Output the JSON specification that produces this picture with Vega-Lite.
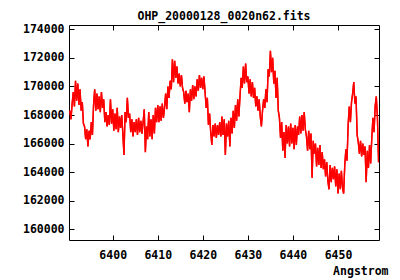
{
"$schema": "https://vega.github.io/schema/vega-lite/v6.json",
"width": 310, "height": 215,
"autosize": {"type": "none"},
"padding": {"left": 69, "top": 25, "right": 21, "bottom": 40},
"background": "white",
"title": {"text": "OHP_20000128_0020n62.fits", "font": "DejaVu Sans Mono", "fontWeight": "bold", "fontSize": 11.5, "color": "black", "anchor": "middle", "baseline": "alphabetic", "offset": -8},
"config": {
  "view": {"stroke": "black", "strokeWidth": 1},
  "axis": {"domain": false, "grid": false, "tickColor": "black", "tickSize": -5, "labelFont": "DejaVu Sans Mono", "labelFontWeight": "bold", "labelFontSize": 11.5, "labelColor": "black", "titleFont": "DejaVu Sans Mono", "titleFontWeight": "bold", "titleFontSize": 11.5, "titleColor": "black"}
},
"data": {"values": [
{"w":6390.50,"f":168300},{"w":6390.75,"f":167700},{"w":6391.00,"f":168800},{"w":6391.25,"f":169600},{"w":6391.50,"f":168600},{"w":6391.75,"f":170400},{"w":6392.00,"f":169000},{"w":6392.25,"f":170200},{"w":6392.50,"f":168700},{"w":6392.75,"f":169800},
{"w":6393.00,"f":168300},{"w":6393.25,"f":168900},{"w":6393.50,"f":167400},{"w":6393.75,"f":167200},{"w":6394.00,"f":166300},{"w":6394.25,"f":167000},{"w":6394.50,"f":165800},{"w":6394.75,"f":166900},{"w":6395.00,"f":166300},{"w":6395.25,"f":167500},
{"w":6395.50,"f":166600},{"w":6395.75,"f":168700},{"w":6396.00,"f":169800},{"w":6396.25,"f":168300},{"w":6396.50,"f":169500},{"w":6396.75,"f":168400},{"w":6397.00,"f":169300},{"w":6397.25,"f":168200},{"w":6397.50,"f":169600},{"w":6397.75,"f":168500},
{"w":6398.00,"f":169100},{"w":6398.25,"f":167500},{"w":6398.50,"f":168200},{"w":6398.75,"f":167200},{"w":6399.00,"f":168000},{"w":6399.25,"f":167300},{"w":6399.50,"f":169100},{"w":6399.75,"f":167400},{"w":6400.00,"f":168400},{"w":6400.25,"f":166900},
{"w":6400.50,"f":168100},{"w":6400.75,"f":167000},{"w":6401.00,"f":168500},{"w":6401.25,"f":166800},{"w":6401.50,"f":167900},{"w":6401.75,"f":167100},{"w":6402.00,"f":168000},{"w":6402.25,"f":166700},{"w":6402.50,"f":165200},{"w":6402.75,"f":168200},
{"w":6403.00,"f":167500},{"w":6403.25,"f":169200},{"w":6403.50,"f":167800},{"w":6403.75,"f":168100},{"w":6404.00,"f":166800},{"w":6404.25,"f":167700},{"w":6404.50,"f":166500},{"w":6404.75,"f":167500},{"w":6405.00,"f":166800},{"w":6405.25,"f":167700},
{"w":6405.50,"f":166600},{"w":6405.75,"f":167800},{"w":6406.00,"f":166800},{"w":6406.25,"f":167600},{"w":6406.50,"f":166700},{"w":6406.75,"f":167500},{"w":6407.00,"f":168400},{"w":6407.25,"f":165400},{"w":6407.50,"f":167200},{"w":6407.75,"f":166300},
{"w":6408.00,"f":168200},{"w":6408.25,"f":166500},{"w":6408.50,"f":167700},{"w":6408.75,"f":166300},{"w":6409.00,"f":168000},{"w":6409.25,"f":166700},{"w":6409.50,"f":168500},{"w":6409.75,"f":167500},{"w":6410.00,"f":168700},{"w":6410.25,"f":167500},
{"w":6410.50,"f":168600},{"w":6410.75,"f":167600},{"w":6411.00,"f":168800},{"w":6411.25,"f":167800},{"w":6411.50,"f":168500},{"w":6411.75,"f":169500},{"w":6412.00,"f":168400},{"w":6412.25,"f":170000},{"w":6412.50,"f":169200},{"w":6412.75,"f":170400},
{"w":6413.00,"f":169800},{"w":6413.25,"f":171900},{"w":6413.50,"f":170300},{"w":6413.75,"f":171800},{"w":6414.00,"f":170600},{"w":6414.25,"f":171400},{"w":6414.50,"f":170200},{"w":6414.75,"f":170900},{"w":6415.00,"f":170000},{"w":6415.25,"f":170800},
{"w":6415.50,"f":169900},{"w":6415.75,"f":169600},{"w":6416.00,"f":168800},{"w":6416.25,"f":169700},{"w":6416.50,"f":168900},{"w":6416.75,"f":169500},{"w":6417.00,"f":168200},{"w":6417.25,"f":169800},{"w":6417.50,"f":169000},{"w":6417.75,"f":170100},
{"w":6418.00,"f":169100},{"w":6418.25,"f":170000},{"w":6418.50,"f":169300},{"w":6418.75,"f":170500},{"w":6419.00,"f":169700},{"w":6419.25,"f":170800},{"w":6419.50,"f":169900},{"w":6419.75,"f":170600},{"w":6420.00,"f":169800},{"w":6420.25,"f":170700},
{"w":6420.50,"f":169600},{"w":6420.75,"f":168500},{"w":6421.00,"f":169200},{"w":6421.25,"f":167300},{"w":6421.50,"f":168100},{"w":6421.75,"f":166800},{"w":6422.00,"f":165900},{"w":6422.25,"f":167300},{"w":6422.50,"f":166500},{"w":6422.75,"f":167400},
{"w":6423.00,"f":166400},{"w":6423.25,"f":167300},{"w":6423.50,"f":166600},{"w":6423.75,"f":167500},{"w":6424.00,"f":166500},{"w":6424.25,"f":167900},{"w":6424.50,"f":166600},{"w":6424.75,"f":167700},{"w":6425.00,"f":165200},{"w":6425.25,"f":167400},
{"w":6425.50,"f":166500},{"w":6425.75,"f":167600},{"w":6426.00,"f":165800},{"w":6426.25,"f":167800},{"w":6426.50,"f":166700},{"w":6426.75,"f":168300},{"w":6427.00,"f":167100},{"w":6427.25,"f":168700},{"w":6427.50,"f":167600},{"w":6427.75,"f":169100},
{"w":6428.00,"f":167900},{"w":6428.25,"f":169300},{"w":6428.50,"f":170600},{"w":6428.75,"f":169900},{"w":6429.00,"f":171400},{"w":6429.25,"f":170200},{"w":6429.50,"f":171600},{"w":6429.75,"f":170300},{"w":6430.00,"f":170700},{"w":6430.25,"f":169500},
{"w":6430.50,"f":170500},{"w":6430.75,"f":169300},{"w":6431.00,"f":170300},{"w":6431.25,"f":169200},{"w":6431.50,"f":169900},{"w":6431.75,"f":168600},{"w":6432.00,"f":169300},{"w":6432.25,"f":168300},{"w":6432.50,"f":169100},{"w":6432.75,"f":167900},
{"w":6433.00,"f":167200},{"w":6433.25,"f":168300},{"w":6433.50,"f":169100},{"w":6433.75,"f":168500},{"w":6434.00,"f":169800},{"w":6434.25,"f":168900},{"w":6434.50,"f":171200},{"w":6434.75,"f":170700},{"w":6435.00,"f":172500},{"w":6435.25,"f":171000},
{"w":6435.50,"f":172000},{"w":6435.75,"f":170200},{"w":6436.00,"f":171100},{"w":6436.25,"f":169200},{"w":6436.50,"f":170600},{"w":6436.75,"f":168300},{"w":6437.00,"f":167800},{"w":6437.25,"f":166400},{"w":6437.50,"f":167500},{"w":6437.75,"f":165500},
{"w":6438.00,"f":166800},{"w":6438.25,"f":165000},{"w":6438.50,"f":167300},{"w":6438.75,"f":166000},{"w":6439.00,"f":167200},{"w":6439.25,"f":165800},{"w":6439.50,"f":167400},{"w":6439.75,"f":166000},{"w":6440.00,"f":167100},{"w":6440.25,"f":165600},
{"w":6440.50,"f":167300},{"w":6440.75,"f":165900},{"w":6441.00,"f":167200},{"w":6441.25,"f":166600},{"w":6441.50,"f":167900},{"w":6441.75,"f":166700},{"w":6442.00,"f":168000},{"w":6442.25,"f":166900},{"w":6442.50,"f":168200},{"w":6442.75,"f":167000},
{"w":6443.00,"f":166500},{"w":6443.25,"f":165500},{"w":6443.50,"f":166900},{"w":6443.75,"f":165600},{"w":6444.00,"f":166700},{"w":6444.25,"f":163600},{"w":6444.50,"f":166200},{"w":6444.75,"f":165300},{"w":6445.00,"f":166000},{"w":6445.25,"f":164400},
{"w":6445.50,"f":165700},{"w":6445.75,"f":164500},{"w":6446.00,"f":165900},{"w":6446.25,"f":164300},{"w":6446.50,"f":165400},{"w":6446.75,"f":164200},{"w":6447.00,"f":164900},{"w":6447.25,"f":163700},{"w":6447.50,"f":164700},{"w":6447.75,"f":163400},
{"w":6448.00,"f":162800},{"w":6448.25,"f":164500},{"w":6448.50,"f":163300},{"w":6448.75,"f":164300},{"w":6449.00,"f":163500},{"w":6449.25,"f":164400},{"w":6449.50,"f":163000},{"w":6449.75,"f":164200},{"w":6450.00,"f":162500},{"w":6450.25,"f":163900},
{"w":6450.50,"f":162800},{"w":6450.75,"f":164100},{"w":6451.00,"f":162900},{"w":6451.25,"f":162500},{"w":6451.50,"f":164500},{"w":6451.75,"f":165600},{"w":6452.00,"f":164800},{"w":6452.25,"f":167300},{"w":6452.50,"f":168600},{"w":6452.75,"f":167500},
{"w":6453.00,"f":168900},{"w":6453.25,"f":169500},{"w":6453.50,"f":170300},{"w":6453.75,"f":168800},{"w":6454.00,"f":169300},{"w":6454.25,"f":166600},{"w":6454.50,"f":166100},{"w":6454.75,"f":165300},{"w":6455.00,"f":166200},{"w":6455.25,"f":165100},
{"w":6455.50,"f":166000},{"w":6455.75,"f":165200},{"w":6456.00,"f":165800},{"w":6456.25,"f":163300},{"w":6456.50,"f":165500},{"w":6456.75,"f":164300},{"w":6457.00,"f":165900},{"w":6457.25,"f":164600},{"w":6457.50,"f":166400},{"w":6457.75,"f":167800},
{"w":6458.00,"f":166800},{"w":6458.25,"f":168600},{"w":6458.50,"f":169300},{"w":6458.75,"f":167800},{"w":6459.00,"f":164700}
]},
"layer": [
  {
    "mark": {"type": "line", "color": "#ff0000", "strokeWidth": 1.4, "clip": true},
    "encoding": {
      "x": {"field": "w", "type": "quantitative", "scale": {"domain": [6390.3, 6459.1], "nice": false, "zero": false},
            "axis": {"orient": "bottom", "values": [6400, 6410, 6420, 6430, 6440, 6450], "format": "d", "labelPadding": 14, "title": "Angstrom", "titleAnchor": "end", "titleAlign": "right", "titleX": 319, "titleY": 31, "titleBaseline": "middle"}},
      "y": {"field": "f", "type": "quantitative", "scale": {"domain": [159250, 174300], "nice": false, "zero": false},
            "axis": {"orient": "left", "values": [160000, 162000, 164000, 166000, 168000, 170000, 172000, 174000], "format": "d", "labelPadding": 10, "title": null}}
    }
  },
  {
    "mark": {"type": "line", "color": "#ff0000", "strokeWidth": 1.4, "clip": true},
    "encoding": {
      "x": {"field": "w", "type": "quantitative", "axis": {"orient": "top", "values": [6400, 6410, 6420, 6430, 6440, 6450], "labels": false, "title": null}},
      "y": {"field": "f", "type": "quantitative", "axis": {"orient": "right", "values": [160000, 162000, 164000, 166000, 168000, 170000, 172000, 174000], "labels": false, "title": null}}
    }
  }
],
"resolve": {"axis": {"x": "independent", "y": "independent"}}
}
